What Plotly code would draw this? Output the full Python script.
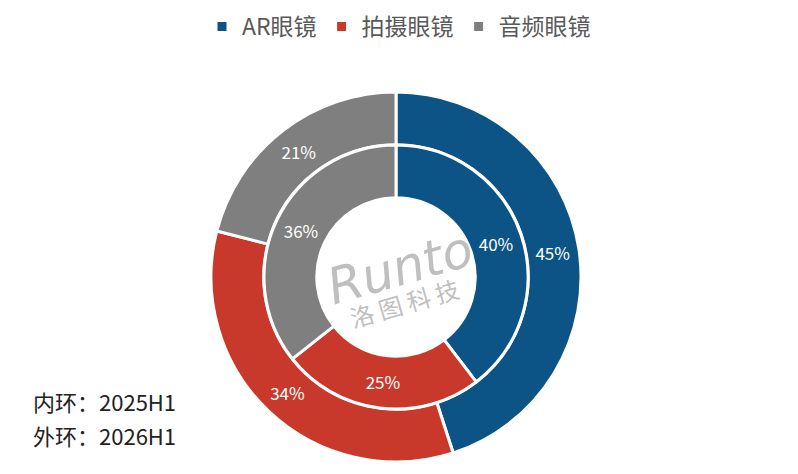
import plotly.graph_objects as go

categories = ["AR眼镜", "拍摄眼镜", "音频眼镜"]
inner_2025h1 = [40, 25, 36]
outer_2026h1 = [45, 34, 21]
colors = ["#0B5485", "#C9392B", "#7F7F7F"]
notes = ["内环：2025H1", "外环：2026H1"]

W, H = 798, 474
OFF = 8  # page body margin offset
cx, cy = 396 - OFF, 277 - OFF
r_out, r_in = 185, 132

def dom(r):
    return dict(x=[(cx - r) / W, (cx + r) / W],
                y=[(H - cy - r) / H, (H - cy + r) / H])

font_family = "Noto Sans CJK SC, Noto Sans, sans-serif"

fig = go.Figure()
fig.add_trace(go.Pie(
    labels=categories, values=outer_2026h1, domain=dom(r_out), hole=0.715,
    sort=False, direction="clockwise", rotation=0,
    marker=dict(colors=colors, line=dict(color="white", width=3)),
    textinfo="percent", texttemplate="%{value}%", textposition="inside",
    insidetextorientation="horizontal",
    textfont=dict(color="white", size=17, family=font_family),
    showlegend=True, hoverinfo="label+value",
))
fig.add_trace(go.Pie(
    labels=categories, values=inner_2025h1, domain=dom(r_in), hole=0.6,
    sort=False, direction="clockwise", rotation=0,
    marker=dict(colors=colors, line=dict(color="white", width=3)),
    textinfo="percent", texttemplate="%{value}%", textposition="inside",
    insidetextorientation="horizontal",
    textfont=dict(color="white", size=17, family=font_family),
    showlegend=False, hoverinfo="label+value",
))

# watermark
fig.add_annotation(x=(cx + 4) / W, y=(H - (268 - OFF)) / H, xref="paper", yref="paper",
                   text="<i>Runto</i>", showarrow=False, textangle=-16,
                   font=dict(size=50, color="rgba(175,175,175,0.8)", family="DejaVu Sans"))
fig.add_annotation(x=(cx + 8) / W, y=(H - (302 - OFF)) / H, xref="paper", yref="paper",
                   text="洛 图 科 技", showarrow=False, textangle=-16,
                   font=dict(size=24, color="rgba(175,175,175,0.8)", family=font_family))

for i, t in enumerate(notes):
    fig.add_annotation(x=(31 - OFF) / W, y=(H - (401 - OFF) - 34 * i) / H, xref="paper", yref="paper",
                       xanchor="left", yanchor="middle", text=t, showarrow=False,
                       font=dict(size=22, color="#222222", family=font_family))

fig.update_layout(
    width=W, height=H, margin=dict(l=0, r=0, t=0, b=0, autoexpand=False),
    paper_bgcolor="white", plot_bgcolor="white",
    font=dict(family=font_family),
    legend=dict(orientation="h", x=(399 - OFF) / W, xanchor="center",
                y=1 + 3 / H, yanchor="top",
                font=dict(size=23, color="#595959", family=font_family),
                itemwidth=30, traceorder="normal"),
)

fig.write_html("out.html")
